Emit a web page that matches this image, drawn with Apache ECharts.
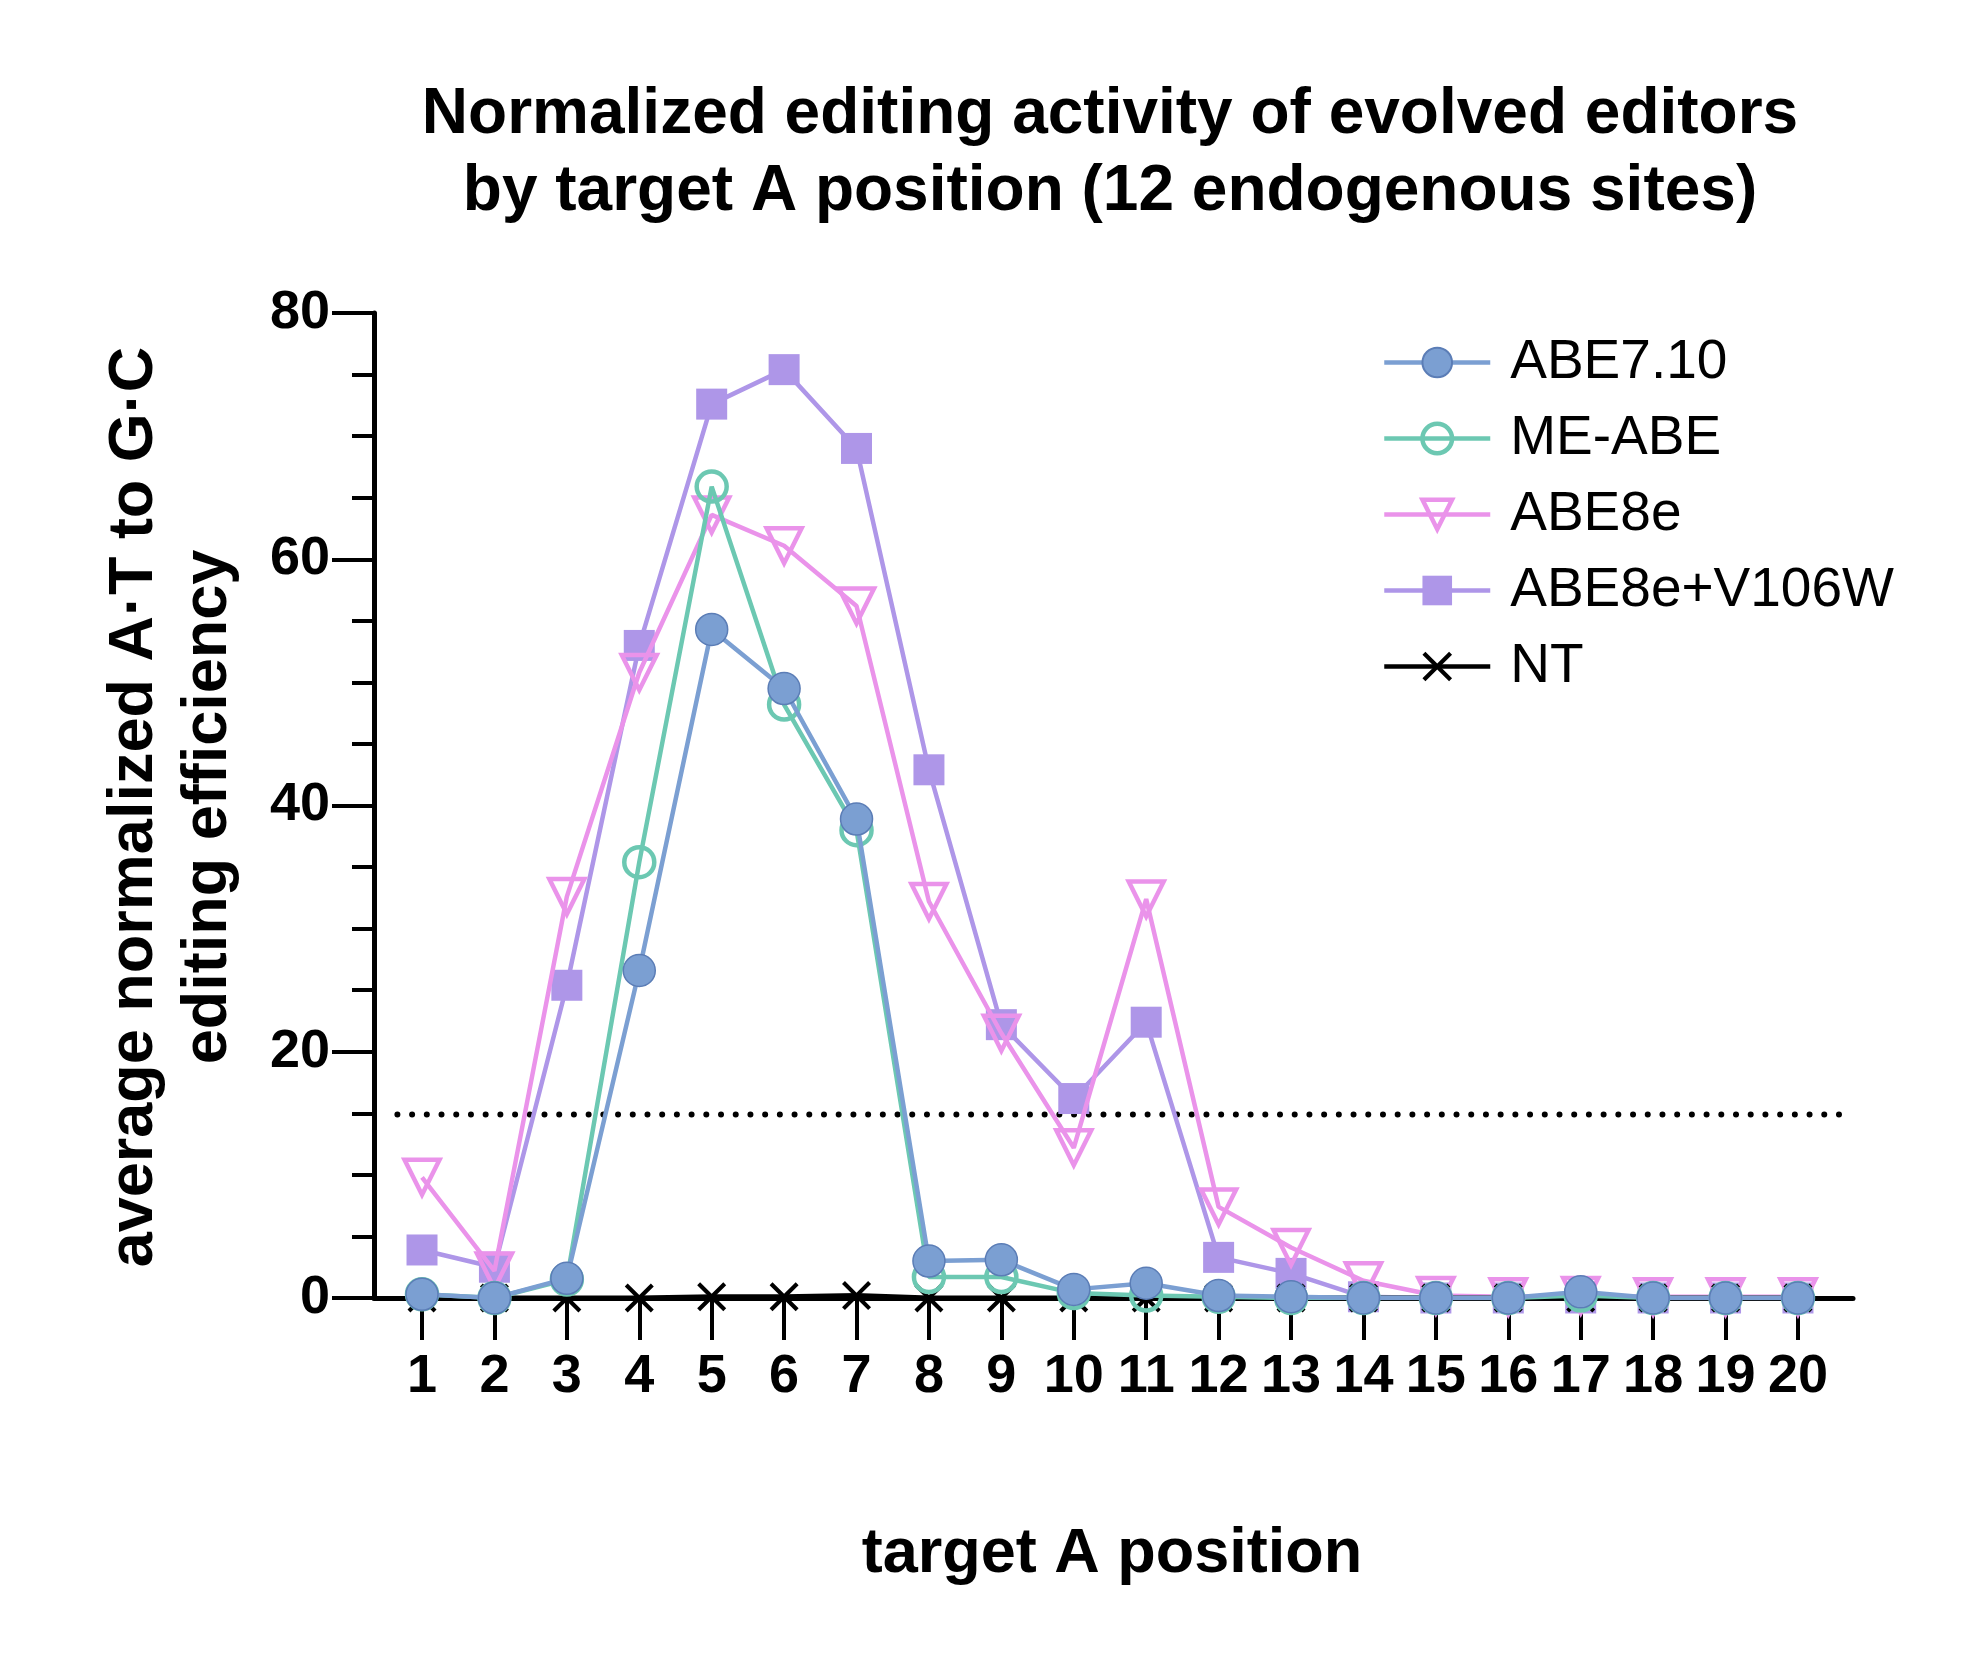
<!DOCTYPE html>
<html>
<head>
<meta charset="utf-8">
<script src="https://cdn.jsdelivr.net/npm/echarts@6/dist/echarts.min.js"></script>
<style>
  html, body { margin: 0; padding: 0; background: #fff; }
  #main { width: 1980px; height: 1666px; }
</style>
</head>
<body>
<div id="main"></div>
<script>
// target A positions along the protospacer
var positions = [1, 2, 3, 4, 5, 6, 7, 8, 9, 10, 11, 12, 13, 14, 15, 16, 17, 18, 19, 20];

// average normalized A·T to G·C editing
var abe710     = [0.3, 0, 1.6, 26.6, 54.3, 49.5, 38.9, 3.0, 3.1, 0.7, 1.2, 0.2, 0.1, 0, 0, 0, 0.5, 0, 0, 0];
var meAbe      = [0.3, 0, 1.5, 35.4, 65.9, 48.2, 38.0, 1.7, 1.7, 0.4, 0.2, 0.1, 0, 0, 0, 0, 0.2, 0, 0, 0];
var abe8e      = [9.8, 2.2, 32.6, 50.8, 63.6, 61.1, 56.2, 32.2, 21.5, 12.2, 32.4, 7.4, 4.1, 1.4, 0.2, 0.1, 0.2, 0.1, 0.1, 0.1];
var abe8eV106W = [3.9, 2.5, 25.4, 53.0, 72.6, 75.4, 69.0, 42.9, 22.2, 16.2, 22.4, 3.3, 2.0, 0.1, 0, 0, 0, 0, 0, 0];
var nt         = [0, 0, 0, 0, 0.1, 0.1, 0.2, 0, 0, 0, 0, 0, 0, 0, 0, 0, 0, 0, 0, 0];

// dotted threshold line
var thresholdValue = 14.9;
var thresholdX = [0.66, 20.6];

var yTicks = [0, 20, 40, 60, 80];
var legendNames = ['ABE7.10', 'ME-ABE', 'ABE8e', 'ABE8e+V106W', 'NT'];

var FONT = 'Liberation Sans, Arial, sans-serif';

function pairs(vals) {
    return positions.map(function (p, i) { return [p, vals[i]]; });
}

var myChart = echarts.init(document.getElementById('main'));

var crossPath = 'path://M0,1L1,0L5,4L9,0L10,1L6,5L10,9L9,10L5,6L1,10L0,9L4,5Z';

// open symbols keep a thick outline in the legend too
var legendData = legendNames.map(function (n) {
    if (n === 'ME-ABE' || n === 'ABE8e') {
        return { name: n, itemStyle: { borderWidth: 4.5 } };
    }
    return { name: n };
});

var option = {
    backgroundColor: '#fff',
    animation: false,
    grid: { left: 374, right: 127, top: 313, bottom: 368, containLabel: false },
    legend: {
        data: legendData,
        orient: 'vertical',
        left: 1377,
        top: 330,
        itemWidth: 106,
        itemHeight: 37,
        itemGap: 21,
        lineStyle: { width: 4.5 },
        textStyle: { fontFamily: FONT, fontSize: 55, color: '#000', padding: [0, 0, 0, 15] }
    },
    xAxis: {
        type: 'value',
        min: 0.337,
        max: 20.76,
        splitLine: { show: false },
        axisLine: { show: true, onZero: false, lineStyle: { color: '#000', width: 5 } },
        axisTick: { show: true, customValues: positions, length: 42, lineStyle: { color: '#000', width: 4 } },
        axisLabel: {
            customValues: positions,
            margin: 52,
            fontFamily: FONT, fontWeight: 'bold', fontSize: 54, color: '#000',
            formatter: function (v) { return String(Math.round(v)); }
        }
    },
    yAxis: {
        type: 'value',
        min: 0,
        max: 80,
        interval: 20,
        splitLine: { show: false },
        axisLine: { show: true, lineStyle: { color: '#000', width: 5 } },
        axisTick: { show: true, length: 42, lineStyle: { color: '#000', width: 4 } },
        minorTick: { show: true, splitNumber: 4, length: 22, lineStyle: { color: '#000', width: 4 } },
        axisLabel: {
            margin: 44,
            fontFamily: FONT, fontWeight: 'bold', fontSize: 54, color: '#000',
            customValues: yTicks
        }
    },
    graphic: [
        {
            type: 'text', x: 1110, y: 154,
            style: {
                text: 'Normalized editing activity of evolved editors\nby target A position (12 endogenous sites)',
                font: 'bold 64px ' + FONT, fill: '#000',
                align: 'center', verticalAlign: 'middle', lineHeight: 77
            }
        },
        {
            type: 'text', x: 172, y: 807, rotation: Math.PI / 2,
            style: {
                text: 'average normalized A\u00b7T to G\u00b7C\nediting efficiency',
                font: 'bold 63px ' + FONT, fill: '#000',
                align: 'center', verticalAlign: 'middle', lineHeight: 74
            }
        },
        {
            type: 'text', x: 1112, y: 1555,
            style: {
                text: 'target A position',
                font: 'bold 63px ' + FONT, fill: '#000',
                align: 'center', verticalAlign: 'middle'
            }
        }
    ],
    series: [
        {
            name: 'threshold',
            type: 'line',
            data: thresholdX.map(function (x) { return [x, thresholdValue]; }),
            symbol: 'none',
            silent: true,
            z: 1,
            lineStyle: { color: '#000', width: 6, type: [0.01, 14.7], cap: 'round' }
        },
        {
            name: 'ABE8e+V106W',
            type: 'line',
            data: pairs(abe8eV106W),
            symbol: 'rect',
            symbolSize: 31,
            z: 2,
            lineStyle: { color: '#ae96e8', width: 4.5 },
            itemStyle: { color: '#ae96e8' }
        },
        {
            name: 'ABE8e',
            type: 'line',
            data: pairs(abe8e),
            symbol: 'triangle',
            symbolRotate: 180,
            symbolSize: 35,
            z: 3,
            lineStyle: { color: '#ea93ea', width: 4.5 },
            itemStyle: { color: 'rgba(255,255,255,0)', borderColor: '#ea93ea', borderWidth: 4.5 }
        },
        {
            name: 'NT',
            type: 'line',
            data: pairs(nt),
            symbol: crossPath,
            symbolSize: 29,
            z: 4,
            lineStyle: { color: '#000', width: 5 },
            itemStyle: { color: '#000' }
        },
        {
            name: 'ME-ABE',
            type: 'line',
            data: pairs(meAbe),
            symbol: 'circle',
            symbolSize: 30,
            z: 5,
            lineStyle: { color: '#6cc8b2', width: 4.5 },
            itemStyle: { color: 'rgba(255,255,255,0)', borderColor: '#6cc8b2', borderWidth: 4.5 }
        },
        {
            name: 'ABE7.10',
            type: 'line',
            data: pairs(abe710),
            symbol: 'circle',
            symbolSize: 32,
            z: 6,
            lineStyle: { color: '#7b9fd2', width: 4.5 },
            itemStyle: { color: '#7b9fd2', borderColor: '#5b7db6', borderWidth: 1.5 }
        }
    ]
};

myChart.setOption(option);
</script>
</body>
</html>
